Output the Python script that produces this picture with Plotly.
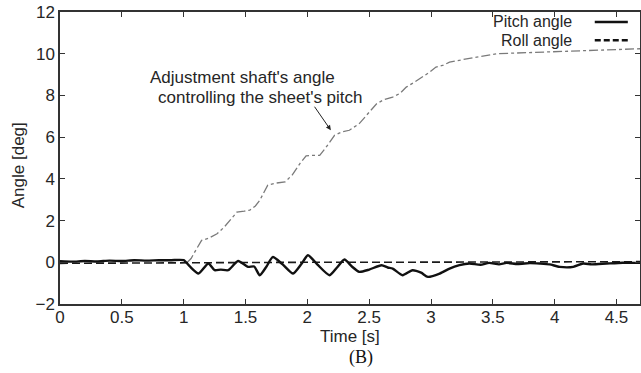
import plotly.graph_objects as go

# Adjustment shaft's angle (gray dash-dot)
shaft_t = [1.03, 1.06, 1.10, 1.145, 1.2, 1.27, 1.33, 1.39, 1.43, 1.49, 1.535, 1.58, 1.615, 1.68, 1.75,
           1.82, 1.88, 1.94, 1.99, 2.05, 2.10, 2.15, 2.22, 2.28, 2.34, 2.42, 2.49, 2.56, 2.62, 2.69,
           2.75, 2.80, 2.87, 2.93, 2.99, 3.04, 3.10, 3.15, 3.25, 3.37, 3.53, 3.7, 3.96, 4.2, 4.36, 4.55, 4.7]
shaft_v = [0.0, 0.18, 0.6, 1.05, 1.15, 1.37, 1.7, 2.1, 2.4, 2.45, 2.5, 2.7, 2.97, 3.7, 3.8,
           3.85, 4.2, 4.73, 5.1, 5.13, 5.13, 5.5, 6.09, 6.25, 6.33, 6.65, 7.1, 7.6, 7.8, 7.92,
           8.1, 8.4, 8.65, 8.88, 9.12, 9.36, 9.45, 9.6, 9.72, 9.84, 10.0, 10.03, 10.08, 10.12, 10.16, 10.2, 10.24]

# Pitch angle (solid black)
pitch_t = [0, 0.1, 0.2, 0.3, 0.4, 0.5, 0.6, 0.7, 0.8, 0.9, 1.0, 1.05, 1.12, 1.2, 1.25, 1.3, 1.36,
           1.44, 1.52, 1.57, 1.615, 1.67, 1.72, 1.8, 1.885, 1.95, 2.005, 2.08, 2.18, 2.24, 2.30,
           2.36, 2.42, 2.5, 2.6, 2.65, 2.69, 2.77, 2.85, 2.92, 2.975, 3.07, 3.15, 3.23, 3.31, 3.4,
           3.47, 3.55, 3.61, 3.7, 3.8, 3.88, 3.96, 4.04, 4.15, 4.23, 4.3, 4.42, 4.55, 4.69]
pitch_v = [0.05, 0.03, 0.06, 0.04, 0.08, 0.06, 0.1, 0.08, 0.1, 0.1, 0.1, -0.2, -0.54, -0.06, -0.38,
           -0.35, -0.38, 0.06, -0.22, -0.2, -0.62, -0.2, 0.25, -0.1, -0.54, -0.1, 0.34, -0.1, -0.62,
           -0.25, 0.13, -0.2, -0.46, -0.35, -0.14, -0.25, -0.3, -0.62, -0.38, -0.5, -0.7, -0.54, -0.3,
           -0.14, -0.06, -0.12, -0.03, -0.1, -0.03, -0.08, -0.04, -0.06, -0.1, -0.22, -0.22, -0.06,
           -0.1, -0.06, -0.02, -0.03]

# Roll angle (dashed black)
roll_t = [0, 0.5, 1.0, 1.5, 2.0, 2.5, 3.0, 3.5, 4.0, 4.5, 4.7]
roll_v = [-0.05, -0.03, -0.02, 0.0, 0.0, 0.0, 0.0, 0.02, 0.03, 0.03, 0.03]

x_ticks = [0, 0.5, 1, 1.5, 2, 2.5, 3, 3.5, 4, 4.5]
x_tick_labels = ["0", "0.5", "1", "1.5", "2", "2.5", "3", "3.5", "4", "4.5"]
y_ticks = [-2, 0, 2, 4, 6, 8, 10, 12]

FONT = "Liberation Sans, Arial, sans-serif"
INK = "#262626"

fig = go.Figure()
fig.add_trace(go.Scatter(x=shaft_t, y=shaft_v, mode="lines",
                         line=dict(color="#7a7a7a", width=1.3, dash="dashdot"), showlegend=False))
fig.add_trace(go.Scatter(x=roll_t, y=roll_v, mode="lines",
                         line=dict(color="#1a1a1a", width=1.6, dash="8px,4px"), showlegend=False))
fig.add_trace(go.Scatter(x=pitch_t, y=pitch_v, mode="lines",
                         line=dict(color="#111111", width=2.4, shape="spline", smoothing=0.6),
                         showlegend=False))

axis_common = dict(showgrid=False, zeroline=False, showline=True, linecolor="#333333", linewidth=1.5,
                   mirror="ticks", ticks="inside", ticklen=5, tickcolor="#333333", tickwidth=1.2,
                   automargin=False, tickfont=dict(family=FONT, size=17, color=INK))

fig.update_xaxes(range=[0, 4.69], tickvals=x_ticks, ticktext=x_tick_labels, ticklabelstandoff=-3,
                 **axis_common)
fig.update_yaxes(range=[-2, 12], tickvals=y_ticks, **axis_common)

annotations = [
    dict(x=0.71, y=8.87, xref="x", yref="y", text="Adjustment shaft's angle", showarrow=False,
         xanchor="left", yanchor="middle", font=dict(family=FONT, size=17, color=INK)),
    dict(x=0.78, y=7.91, xref="x", yref="y", text="controlling the sheet's pitch", showarrow=False,
         xanchor="left", yanchor="middle", font=dict(family=FONT, size=17, color=INK)),
    dict(x=2.19, y=6.33, ax=2.05, ay=7.53, xref="x", yref="y", axref="x", ayref="y", text="",
         showarrow=True, arrowhead=2, arrowsize=1, arrowwidth=1, arrowcolor="#222222"),
    dict(x=-0.072, y=0.476, xref="paper", yref="paper", text="Angle [deg]", showarrow=False,
         textangle=-90, xanchor="center", yanchor="middle", font=dict(family=FONT, size=17, color=INK)),
    dict(x=0.5, y=-0.11, xref="paper", yref="paper", text="Time [s]", showarrow=False,
         xanchor="center", yanchor="middle", font=dict(family=FONT, size=17, color=INK)),
    dict(x=0.519, y=-0.182, xref="paper", yref="paper", text="(B)", showarrow=False,
         xanchor="center", yanchor="middle",
         font=dict(family="Liberation Serif, Times New Roman, serif", size=18, color="#111111")),
    # legend (text on the left, line sample on the right)
    dict(x=0.886, y=0.968, xref="paper", yref="paper", text="Pitch angle", showarrow=False,
         xanchor="right", yanchor="middle", font=dict(family=FONT, size=16, color=INK)),
    dict(x=0.886, y=0.901, xref="paper", yref="paper", text="Roll angle", showarrow=False,
         xanchor="right", yanchor="middle", font=dict(family=FONT, size=16, color=INK)),
]

shapes = [
    dict(type="line", xref="paper", yref="paper", x0=0.922, x1=0.979, y0=0.966, y1=0.966,
         line=dict(color="#111111", width=2.4)),
    dict(type="line", xref="paper", yref="paper", x0=0.922, x1=0.979, y0=0.903, y1=0.903,
         line=dict(color="#111111", width=2.4, dash="6px,3px")),
]

fig.update_layout(width=641, height=373, margin=dict(l=60, r=1, t=12, b=69),
                  plot_bgcolor="white", paper_bgcolor="white",
                  annotations=annotations, shapes=shapes, showlegend=False)

fig.write_html("out.html", config={"displayModeBar": False},
               post_script="document.body.style.margin='0';document.body.style.overflow='hidden';")
